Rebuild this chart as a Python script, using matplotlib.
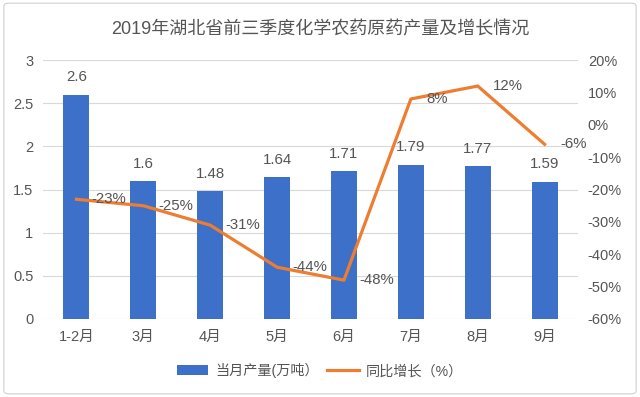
import matplotlib
matplotlib.use("Agg")
import matplotlib.pyplot as plt
from matplotlib.patches import FancyBboxPatch
from matplotlib.lines import Line2D
from matplotlib.patches import Patch
import numpy as np

plt.rcParams['font.family'] = ['Liberation Sans', 'Noto Sans CJK SC', 'DejaVu Sans']

categories = ['1-2月', '3月', '4月', '5月', '6月', '7月', '8月', '9月']
output = [2.6, 1.6, 1.48, 1.64, 1.71, 1.79, 1.77, 1.59]
growth = [-23, -25, -31, -44, -48, 8, 12, -6]
left_ticks = [0, 0.5, 1, 1.5, 2, 2.5, 3]
left_tick_labels = ['0', '0.5', '1', '1.5', '2', '2.5', '3']
right_ticks = [-60, -50, -40, -30, -20, -10, 0, 10, 20]
title = '2019年湖北省前三季度化学农药原药产量及增长情况'
bar_label = '当月产量(万吨）'
line_label = '同比增长（%）'

bar_color = '#3D70C8'
line_color = '#ED7D31'
text_color = '#555555'
grid_color = '#D9D9D9'

fig = plt.figure(figsize=(6.4, 3.97), dpi=100)
fig.patch.set_facecolor('white')
border = FancyBboxPatch((0.006, 0.008), 0.988, 0.984, boxstyle='round,pad=0,rounding_size=0.008',
                        transform=fig.transFigure, fill=False, edgecolor='#D0D0D0', linewidth=0.8)
fig.patches.append(border)

ax = fig.add_axes([0.0672, 0.1965, 0.836, 0.652])
x = np.arange(len(categories))
ax.bar(x, output, width=0.39, color=bar_color, zorder=2)
ax.set_xlim(-0.5, len(categories) - 0.5)
ax.set_ylim(0, 3)
ax.set_yticks(left_ticks)
ax.set_yticklabels(left_tick_labels)
ax.set_xticks(x)
ax.set_xticklabels(categories)
ax.grid(axis='y', color=grid_color, linewidth=0.8, zorder=0)
for s in ax.spines.values():
    s.set_visible(False)
ax.tick_params(axis='both', length=0, colors=text_color, labelsize=10.5)
ax.tick_params(axis='x', pad=8)
ax.tick_params(axis='y', pad=7)

for xi, v in zip(x, output):
    ax.annotate(f'{v:g}', (xi, v), xytext=(0, 7.5), textcoords='offset points',
                ha='center', va='bottom', fontsize=10.8, color=text_color)

ax2 = ax.twinx()
ax2.set_ylim(-60, 20)
ax2.set_yticks(right_ticks)
ax2.set_yticklabels([f'{t}%' for t in right_ticks])
for s in ax2.spines.values():
    s.set_visible(False)
ax2.tick_params(axis='y', length=0, colors=text_color, labelsize=10.5, pad=7)
ax2.plot(x, growth, color=line_color, linewidth=2.3, zorder=3, solid_joinstyle='round')
for xi, v in zip(x, growth):
    ax2.annotate(f'{v}%', (xi, v), xytext=(11, 0), textcoords='offset points',
                 ha='left', va='center', fontsize=10.8, color=text_color, zorder=4)

fig.text(0.5, 0.924, title, ha='center', va='center', fontsize=13, color=text_color)

handles = [Patch(facecolor=bar_color, edgecolor='none'),
           Line2D([0], [0], color=line_color, linewidth=2.3)]
fig.legend(handles, [bar_label, line_label], loc='center', bbox_to_anchor=(0.5, 0.066),
           ncol=2, frameon=False, fontsize=10.2, labelcolor=text_color,
           handlelength=2.2, handleheight=0.7, columnspacing=0.6, handletextpad=0.5)

fig.savefig('out.png', dpi=100, facecolor='white')
